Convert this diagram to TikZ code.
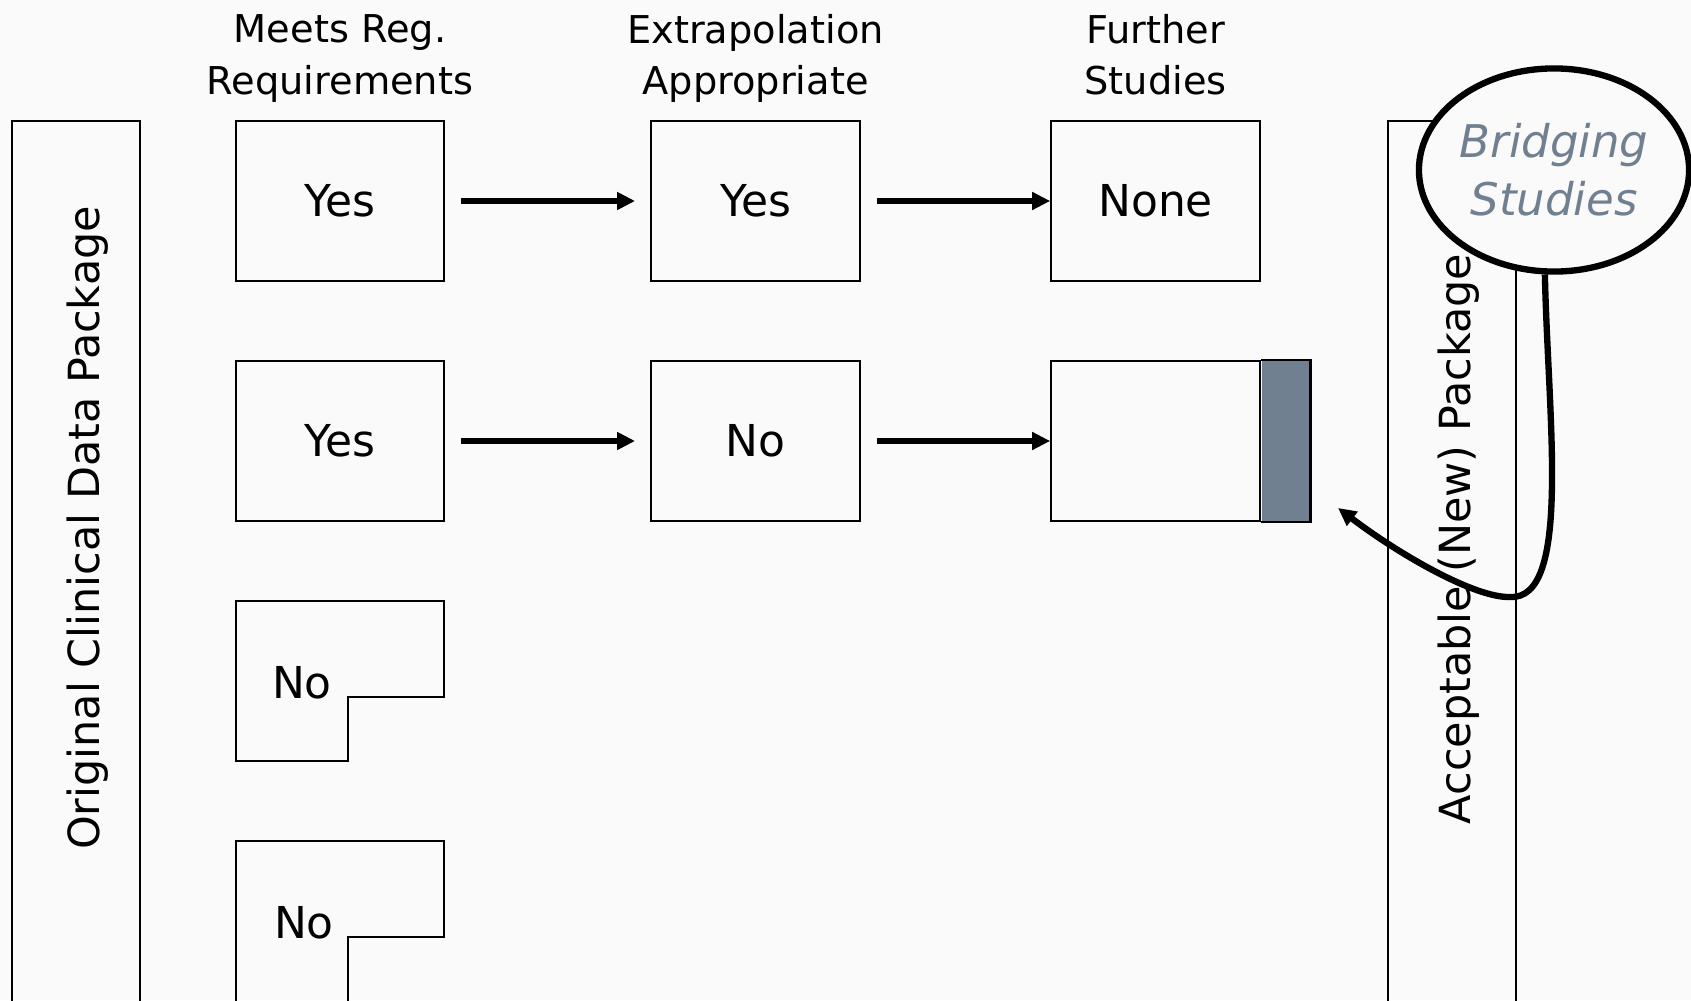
\documentclass[tikz,border=0pt]{standalone}
\usepackage{fontspec}
\setmainfont{DejaVu Sans}
\usetikzlibrary{shapes.geometric,arrows.meta}
\definecolor{slate}{RGB}{112,128,144}
\definecolor{paper}{RGB}{250,250,250}
\begin{document}
\begin{tikzpicture}[x=0.01cm,y=-0.01cm,
    box/.style={draw,line width=0.6pt,minimum width=2.086cm,minimum height=1.6cm,font=\fontsize{12.5}{15}\selectfont},
    hdr/.style={align=center,node distance=1.42cm,text depth=0.09cm,font=\fontsize{10.9}{14.7}\selectfont},
    arr/.style={-{Triangle[length=0.18cm,width=0.17cm]},line width=1.6pt}]
  \useasboundingbox (0,0) rectangle (1691,1000);
  \fill [paper] (0,0) rectangle (1691,1000);
  % side packages
  \draw [line width=0.6pt] (12,1010) -- (12,121) -- (140,121) -- (140,1010);
  \node (orig) [rotate=90,font=\fontsize{12.2}{14}\selectfont] at (88,528) {Original Clinical Data Package};
  \draw [line width=0.6pt] (1388,1010) -- (1388,121) -- (1516,121) -- (1516,1010);
  \node (accept) [rotate=90,font=\fontsize{12.2}{14}\selectfont] at (1459,539) {Acceptable (New) Package};
  % rows
  \node (yes1) [box] at (340,201) {Yes};
  \node (ext1) [box] at (755.5,201) {Yes};
  \node (fur1) [box] at (1155.6,201) {None};
  \node (yes2) [box] at (340,441) {Yes};
  \node (ext2) [box] at (755.5,441) {No};
  \node (fur2) [box] at (1155.6,441) {};
  \node (extra) [fill=slate,inner sep=0,minimum width=0.48cm,minimum height=1.6cm,anchor=west] at (fur2.east) {};
  \draw [line width=0.6pt] (extra.north west) -- (extra.north east) -- (extra.south east) -- (extra.south west);
  \draw [line width=0.6pt] (235.7,601) -- (444.3,601) -- (444.3,697) -- (347.7,697) -- (347.7,761) -- (235.7,761) -- cycle;
  \node (no3) [font=\fontsize{12.5}{15}\selectfont] at (302,683) {No};
  \draw [line width=0.6pt] (235.7,1010) -- (235.7,841) -- (444.3,841) -- (444.3,937) -- (347.7,937) -- (347.7,1010);
  \node (no4) [font=\fontsize{12.5}{15}\selectfont] at (304,923) {No};
  % headers
  \node (hreq) [hdr,above of=yes1] {Meets Reg.\\Requirements};
  \node (hext) [hdr,above of=ext1] {Extrapolation\\Appropriate};
  \node (hfur) [hdr,above of=fur1] {Further\\Studies};
  \draw [arr,shorten <=0.16cm,shorten >=0.15cm] (yes1) -- (ext1);
  \draw [arr,shorten <=0.16cm] (ext1) -- (fur1);
  \draw [arr,shorten <=0.16cm,shorten >=0.15cm] (yes2) -- (ext2);
  \draw [arr,shorten <=0.16cm] (ext2) -- (fur2);
  % bridging callout
  \node (bridge) [ellipse,draw,line width=1.8pt,fill=paper,inner sep=0,minimum width=2.7cm,minimum height=2.03cm,align=center,text=slate,font=\fontsize{12.8}{16.4}\selectfont\itshape] at (1554,170) {Bridging\\Studies};
  \coordinate (tip) at (1338,508);
  \draw [arr,line width=1.8pt] (bridge.265) .. controls (1548,420) and (1572,600) .. (1510,597) .. controls (1475,598) and (1400,555) .. (tip);
\end{tikzpicture}
\end{document}
